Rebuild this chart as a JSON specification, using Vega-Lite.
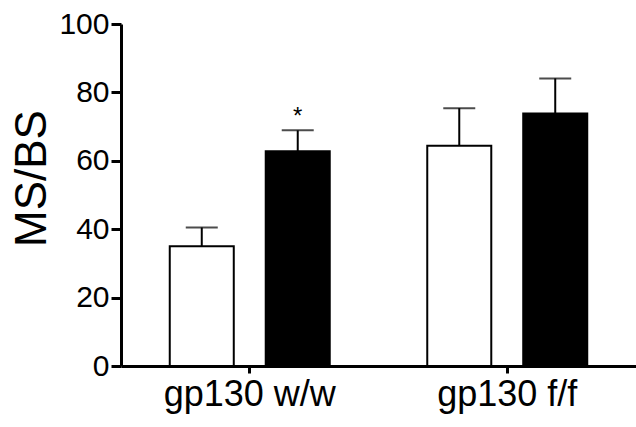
{
  "$schema": "https://vega.github.io/schema/vega-lite/v6.json",
  "autosize": {"type": "none"},
  "padding": {"left": 121, "top": 24, "right": 0, "bottom": 61},
  "width": 515,
  "height": 342,
  "background": "white",
  "config": {
    "view": {"stroke": null},
    "font": "Liberation Sans",
    "axis": {"grid": false, "zindex": 1}
  },
  "data": {
    "values": [
      {"genotype": "gp130 w/w", "group": "control", "mean": 35.0, "upper": 40.5, "sig": ""},
      {"genotype": "gp130 w/w", "group": "treated", "mean": 62.8, "upper": 68.9, "sig": "*"},
      {"genotype": "gp130 f/f", "group": "control", "mean": 64.4, "upper": 75.4, "sig": ""},
      {"genotype": "gp130 f/f", "group": "treated", "mean": 73.8, "upper": 84.1, "sig": ""}
    ]
  },
  "encoding": {
    "x": {
      "field": "genotype", "type": "nominal", "sort": ["gp130 w/w", "gp130 f/f"],
      "scale": {"paddingInner": 0, "paddingOuter": 0},
      "axis": {
        "title": null, "labelAngle": 0, "labelFontSize": 36, "labelColor": "black",
        "domainColor": "black", "domainWidth": 3, "tickColor": "black", "tickWidth": 3,
        "tickSize": 7, "labelPadding": 4
      }
    },
    "xOffset": {
      "field": "group", "type": "nominal", "sort": ["control", "treated"],
      "scale": {"paddingInner": 0.333, "paddingOuter": 0.508}
    }
  },
  "layer": [
    {
      "mark": {"type": "bar", "stroke": "black", "strokeWidth": 2},
      "encoding": {
        "y": {
          "field": "mean", "type": "quantitative",
          "scale": {"domain": [0, 100], "nice": false},
          "axis": {
            "title": "MS/BS", "titleFontSize": 44, "titleFont": "Liberation Sans Narrow, Liberation Sans",
            "titleFontWeight": "normal", "titleColor": "black", "titlePadding": 4, "titleY": 154,
            "values": [0, 20, 40, 60, 80, 100], "labelFontSize": 30, "labelColor": "black",
            "domainColor": "black", "domainWidth": 3, "tickColor": "black", "tickWidth": 3,
            "tickSize": 10, "labelPadding": 2
          }
        },
        "fill": {
          "field": "group", "type": "nominal",
          "scale": {"domain": ["control", "treated"], "range": ["white", "black"]},
          "legend": null
        }
      }
    },
    {
      "mark": {"type": "rule", "stroke": "black", "strokeWidth": 2},
      "encoding": {
        "y": {"field": "mean", "type": "quantitative"},
        "y2": {"field": "upper"}
      }
    },
    {
      "mark": {"type": "tick", "color": "black", "thickness": 2, "size": 32, "orient": "horizontal"},
      "encoding": {
        "y": {"field": "upper", "type": "quantitative"}
      }
    },
    {
      "mark": {"type": "text", "fontSize": 24, "baseline": "bottom", "dy": -1, "color": "black"},
      "encoding": {
        "y": {"field": "upper", "type": "quantitative"},
        "text": {"field": "sig"}
      }
    }
  ]
}
